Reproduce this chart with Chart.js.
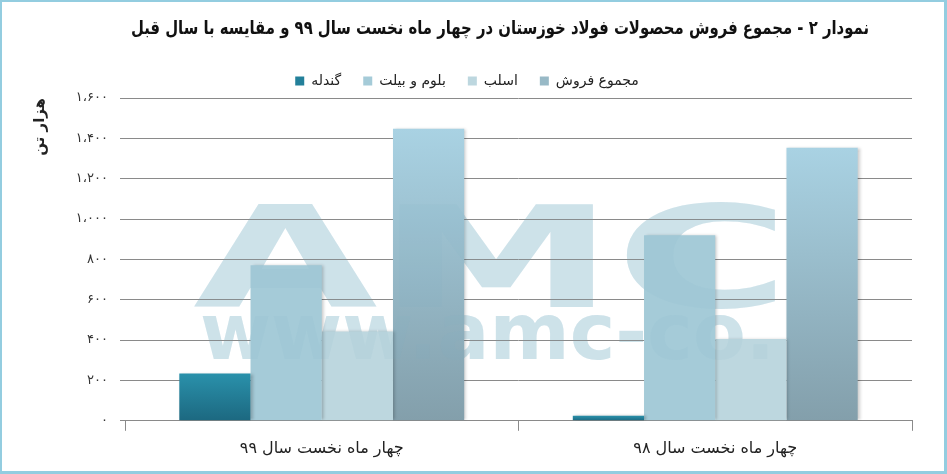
<!DOCTYPE html>
<html lang="fa">
<head>
<meta charset="utf-8">
<script src="https://cdn.jsdelivr.net/npm/chart.js@4.4.1/dist/chart.umd.min.js"></script>
<style>
html, body { margin: 0; padding: 0; background: #fff; }
#frame { width: 947px; height: 474px; box-sizing: border-box; border: 3px solid #93cde0; border-left-width: 2px; border-top-width: 2px; position: relative; }
#wrap { position: absolute; left: 0; top: 0; right: 0; bottom: 0; }
</style>
</head>
<body>
<div id="frame"><div id="wrap"><canvas id="visualChart"></canvas></div></div>
<script>
const titleText = 'نمودار ۲ - مجموع فروش محصولات فولاد خوزستان در چهار ماه نخست سال ۹۹ و مقایسه با سال قبل';
const categories = ['چهار ماه نخست سال ۹۹', 'چهار ماه نخست سال ۹۸'];
const seriesNames = ['گندله', 'بلوم و بیلت', 'اسلب', 'مجموع فروش'];
const pellet = [234, 25];
const bloomBillet = [771, 920];
const slab = [443, 405];
const totalSales = [1448, 1353];
const yTickLabels = ['۰', '۲۰۰', '۴۰۰', '۶۰۰', '۸۰۰', '۱،۰۰۰', '۱،۲۰۰', '۱،۴۰۰', '۱،۶۰۰'];
const yTitle = 'هزار تن';

const font = 'DejaVu Sans';
const legendColors = ['#23809a', '#a5cbd8', '#bdd7df', '#98b9c6'];

// vertical gradient running over each bar's own height
const barGradient = (top, bottom) => (ctx) => {
    const chart = ctx.chart;
    if (!chart.chartArea || ctx.type !== 'data') return bottom;
    const y = chart.scales.y;
    const g = chart.ctx.createLinearGradient(0, y.getPixelForValue(ctx.raw), 0, y.getPixelForValue(0));
    g.addColorStop(0, top);
    g.addColorStop(1, bottom);
    return g;
};

const fitText = (c, text, f, x, y, w) => {
    c.save();
    c.font = f;
    const m = c.measureText(text).width;
    c.translate(x, y);
    c.scale(w / m, 1);
    c.textAlign = 'left';
    c.textBaseline = 'alphabetic';
    c.fillText(text, 0, 0);
    c.restore();
};

const drawWatermark = (c, colour) => {
    c.save();
    c.fillStyle = colour;
    fitText(c, 'AMC', `bold 140px ${font}`, 191, 305, 597);
    fitText(c, 'www.amc-co.', `bold 78px ${font}`, 198, 357, 575);
    c.restore();
};

const titlePlugin = {
    id: 'rtlTitle',
    beforeDraw(chart) {
        const c = chart.ctx;
        // watermark sits under the grid and the bars
        drawWatermark(c, '#d6e7ed');
        c.save();
        c.font = `bold 19px ${font}`;
        c.fillStyle = '#111';
        const w = c.measureText(titleText).width;
        const target = 738;
        c.translate(867, 27);
        if (w > target) c.scale(target / w, 1);
        c.textAlign = 'right';
        c.textBaseline = 'middle';
        c.fillText(titleText, 0, 0);
        c.restore();
    }
};

const shadowPlugin = {
    id: 'barShadow',
    beforeDatasetDraw(chart) {
        const c = chart.ctx;
        c.save();
        c.shadowColor = 'rgba(0,0,0,0.22)';
        c.shadowBlur = 3;
        c.shadowOffsetX = 2;
    },
    afterDatasetDraw(chart) {
        chart.ctx.restore();
    }
};

const watermarkPlugin = {
    id: 'watermark',
    afterDatasetsDraw(chart) {
        // faint tint of the watermark over the bars
        drawWatermark(chart.ctx, 'rgba(120,175,195,0.09)');
    }
};

const chartBlock = document.querySelector('#visualChart').getContext('2d');

new Chart(chartBlock, {
    type: 'bar',
    data: {
        labels: categories,
        datasets: [
            { label: seriesNames[0], data: pellet, backgroundColor: barGradient('#2a91ab', '#1c6880') },
            { label: seriesNames[1], data: bloomBillet, backgroundColor: '#a5cbd8' },
            { label: seriesNames[2], data: slab, backgroundColor: '#bdd7df' },
            { label: seriesNames[3], data: totalSales, backgroundColor: barGradient('#a9d2e3', '#839fab') }
        ]
    },
    options: {
        responsive: true,
        maintainAspectRatio: false,
        animation: false,
        datasets: { bar: { barPercentage: 1, categoryPercentage: 0.724, borderWidth: 0 } },
        layout: { padding: { top: 50, left: 20, right: 32, bottom: 5 } },
        plugins: {
            tooltip: { enabled: false },
            legend: {
                position: 'top',
                labels: {
                    boxWidth: 9,
                    boxHeight: 9,
                    padding: 22,
                    color: '#222',
                    font: { family: font, size: 14 },
                    generateLabels(chart) {
                        const items = Chart.defaults.plugins.legend.labels.generateLabels(chart);
                        items.forEach((it, i) => { it.fillStyle = legendColors[i]; it.strokeStyle = legendColors[i]; it.lineWidth = 0; });
                        return items;
                    }
                }
            }
        },
        scales: {
            x: {
                grid: { drawOnChartArea: false, drawTicks: true, tickLength: 10, color: '#8a8a8a', offset: true },
                border: { color: '#8a8a8a' },
                ticks: { color: '#222', font: { family: font, size: 16 }, padding: 8 }
            },
            y: {
                min: 0,
                max: 1600,
                ticks: {
                    stepSize: 200,
                    color: '#333',
                    padding: 12,
                    font: { family: font, size: 13 },
                    callback: (v, i) => yTickLabels[i]
                },
                grid: { color: '#8a8a8a', tickLength: 5 },
                border: { display: false },
                title: {
                    display: true,
                    text: yTitle,
                    align: 'end',
                    color: '#222',
                    font: { family: font, size: 15, weight: 'bold' },
                    padding: { top: 9, bottom: 0 }
                },
                afterFit(scale) { scale.width = 103; }
            }
        }
    },
    plugins: [titlePlugin, shadowPlugin, watermarkPlugin]
});
</script>
</body>
</html>
